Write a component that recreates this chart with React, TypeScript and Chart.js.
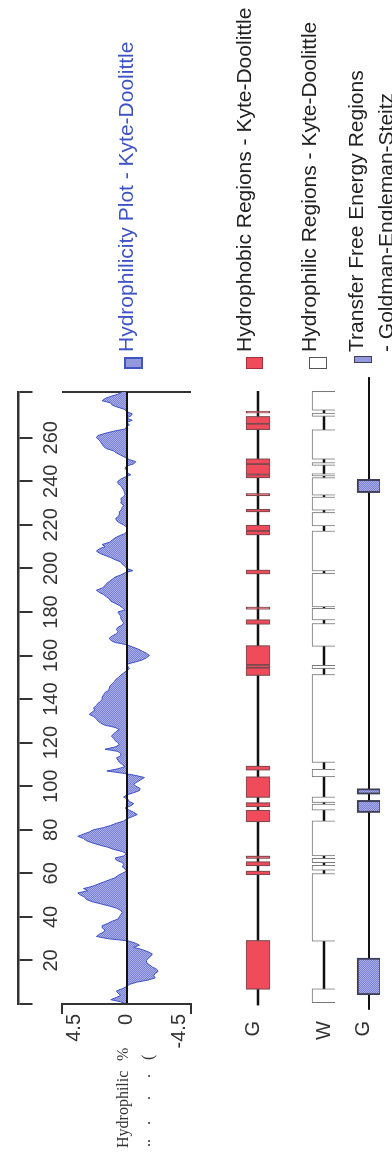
import React, { useEffect, useRef } from "react";
import { Chart, registerables } from "chart.js";

Chart.register(...registerables);

// ---------------- data ----------------
const RESIDUE_MIN = 0;
const RESIDUE_MAX = 281;
const residueTicks = [0, 20, 40, 60, 80, 100, 120, 140, 160, 180, 200, 220, 240, 260, 281];
const residueTickLabels = ["", "20", "40", "60", "80", "100", "120", "140", "160", "180", "200", "220", "240", "260", ""];

const kdTicks = [-4.5, 0, 4.5];
const kdTickLabels = ["-4.5", "0", "4.5"];

// Kyte-Doolittle hydrophilicity, residue 0..281 (index = residue)
const kdValues = [
  0, 0.4, 1.1, 0.7, 0.4, 0.6, 0.7, 0.3, 0, -0.2,
  -0.7, -1.5, -2.0, -1.9, -2.0, -2.2, -2.1, -1.8, -1.6, -1.4,
  -1.4, -1.5, -1.7, -1.8, -1.5, -1.1, -0.5, -0.9, -0.6, -0.1,
  1.3, 2.1, 1.9, 1.6, 1.5, 1.7, 1.7, 1.3, 1.0, 0.6,
  0.5, 0.4, 0.3, 0.4, 0.7, 1.2, 1.8, 2.4, 2.8, 2.9,
  3.2, 3.4, 2.7, 3.0, 2.4, 2.0, 1.6, 1.2, 0.8, 0.6,
  0.3, 0, 0.1, 0.3, 0.2, 0.3, 0.7, 0.8, 0.2, 0,
  0.3, 0.9, 1.3, 1.9, 2.4, 2.8, 3.0, 3.4, 3.0, 2.6,
  2.3, 1.6, 1.1, 0.7, 0.2, 0, -0.4, -0.75, -0.5, -0.2,
  0.1, -0.3, -0.5, -0.2, -0.1, 0.2, 0, -0.5, -0.9, -0.95,
  -0.65, -0.5, -0.75, -1.0, -1.25, -0.6, 0.3, 1.37, 0.6, 0.1,
  0.3, 0.5, 0.6, 0.7, 0.4, 0.4, 0.6, 1.5, 0.8, 0.5,
  0.6, 0.8, 0.9, 1.05, 0.9, 0.75, 0.5, 0.8, 1.5, 1.8,
  2.0, 2.1, 2.3, 2.6, 2.4, 2.2, 2.3, 2.1, 2.0, 1.8,
  1.7, 1.7, 1.6, 1.5, 1.25, 1.2, 1.15, 1.0, 0.85, 0.75,
  0.55, 0.4, 0.2, 0, -0.2, -0.1, 0, -0.6, -1.1, -1.4,
  -1.6, -1.4, -1.1, -0.8, -0.4, 0, 0.8, 1.1, 1.2, 1.0,
  0.7, 0.6, 0.7, 0.6, 0.3, 0.2, 0.3, 0.4, 0.4, 0.5,
  0.6, 0.1, 0.3, 0.5, 0.8, 1.1, 1.2, 1.4, 1.6, 1.9,
  2.1, 1.7, 1.5, 1.4, 1.2, 1.0, 0.8, 0.4, 0.1, -0.45,
  0, 0.1, 0.3, 0.4, 0.8, 1.1, 1.5, 1.9, 2.1, 1.9,
  1.5, 1.7, 1.2, 1.0, 0.8, 0.5, 0.1, 0, 0, 0,
  0.2, 0.5, 0.7, 0.75, 0.55, 0.5, 0.5, 0.35, 0.3, 0.2,
  0.4, 0.35, 0.4, 0.2, 0.1, 0.15, 0.2, 0.3, 0.4, 0.6,
  0.6, 0.4, 0.1, -0.3, 0, 0, 0.1, 0, -0.5, -0.65,
  -0.2, 0.1, 0.4, 0.7, 0.9, 1.4, 1.6, 1.7, 1.8, 1.9,
  2.1, 2.0, 1.5, 0.9, 0.1, 0, -0.2, 0, -0.4, 0,
  -0.3, -0.4, 0, 0.1, 0.6, 1.0, 1.1, 1.7, 1.5, 1.1,
  0.6, 0.3,
];

// region tracks: [start residue, end residue]
const hydrophobicRegions: [number, number][] = [
  [6.7, 29.2], [59.3, 61.1], [63.4, 65.4], [66.8, 68.0], [83.6, 89.0], [90.5, 92.5],
  [94.8, 104.4], [107.3, 109.3], [150.8, 154.4], [154.4, 155.7], [155.7, 164.6],
  [174.3, 176.5], [181.2, 182.3], [197.4, 199.3], [215.3, 217.2], [217.2, 219.9],
  [225.9, 227.2], [233.3, 234.4], [241.5, 243.1], [243.1, 247.9], [247.9, 250.4],
  [263.7, 266.4], [266.4, 269.8], [271.3, 272.2],
];
const hydrophilicRegions: [number, number][] = [
  [0.6, 7.0], [28.8, 59.9], [61.4, 63.7], [64.9, 66.9], [68.0, 84.1], [89.0, 91.8],
  [92.5, 95.1], [104.3, 107.8], [110.9, 151.3], [154.0, 155.5], [164.2, 174.7],
  [176.3, 181.7], [182.3, 197.8], [198.8, 217.2], [219.5, 225.7], [226.7, 232.8],
  [233.6, 241.7], [242.4, 243.5], [247.3, 248.6], [250.1, 263.7], [269.8, 271.3],
  [272.6, 281.3],
];
const transferRegions: [number, number][] = [
  [4.2, 21.1], [87.9, 93.5], [96.3, 98.9], [234.8, 240.9],
];
const hydrophobicSpan: [number, number] = [-0.5, 281.3];
const hydrophilicSpan: [number, number] = [0.6, 281.3];
const transferSpan: [number, number] = [-2.5, 287.7];

const legendLabels = [
  "Hydrophilicity Plot - Kyte-Doolittle",
  "Hydrophobic Regions - Kyte-Doolittle",
  "Hydrophilic Regions - Kyte-Doolittle",
  "Transfer Free Energy Regions",
  "- Goldman-Engleman-Steitz",
];
const trackLabels = ["G", "W", "G"];

// ---------------- layout (unrotated frame 1158 x 392) ----------------
const FULL_W = 1158;
const FULL_H = 392;
const PLOT_LEFT = 154;
const PLOT_RIGHT = 766;
const RIGHT_PAD = FULL_W - PLOT_RIGHT;
const BOX_H = 24;
const SANS = "'Liberation Sans', Arial, Helvetica, sans-serif";
const SERIF = "'Liberation Serif', 'Times New Roman', serif";
const RESIDUE_AXIS_AT = 7.54; // KD-units position of the residue axis line (above plot)

function makePattern(): CanvasPattern | string {
  const c = document.createElement("canvas");
  c.width = 2;
  c.height = 2;
  const g = c.getContext("2d");
  if (!g) return "#9499de";
  g.fillStyle = "#a9ade9";
  g.fillRect(0, 0, 2, 2);
  g.fillStyle = "#7c82d2";
  g.fillRect(0, 0, 1, 1);
  g.fillRect(1, 1, 1, 1);
  return g.createPattern(c, "repeat") || "#9499de";
}

function KDChart() {
  const ref = useRef<HTMLCanvasElement>(null);
  useEffect(() => {
    const canvas = ref.current;
    if (!canvas) return;
    const points = kdValues.map((v, i) => ({ x: RESIDUE_MIN + i, y: v }));
    const chart = new Chart(canvas, {
      type: "line",
      data: {
        datasets: [
          {
            data: points,
            fill: "origin",
            backgroundColor: makePattern() as any,
            borderColor: "#3d52c6",
            borderWidth: 1,
            pointRadius: 0,
            tension: 0,
          },
        ],
      },
      options: {
        animation: false,
        responsive: false,
        events: [],
        layout: { padding: { left: PLOT_LEFT - 60, right: RIGHT_PAD, top: 62, bottom: 11 } },
        plugins: { legend: { display: false }, tooltip: { enabled: false } },
        scales: {
          x: {
            type: "linear",
            min: RESIDUE_MIN,
            max: RESIDUE_MAX,
            position: { y: RESIDUE_AXIS_AT } as any,
            afterBuildTicks: (s: any) => {
              s.ticks = residueTicks.map((v) => ({ value: v }));
            },
            ticks: {
              autoSkip: false,
              maxRotation: 0,
              minRotation: 0,
              padding: 8,
              color: "#333",
              font: { family: SANS, size: 20 },
              callback: (v: any) => {
                const i = residueTicks.indexOf(Number(v));
                return i >= 0 ? residueTickLabels[i] : "";
              },
            },
            grid: {
              drawOnChartArea: true,
              color: (c: any) => (c.tick && c.tick.value === RESIDUE_MAX ? "#333" : "rgba(0,0,0,0)"),
              lineWidth: 2,
              tickLength: 13,
              tickColor: "#333",
              tickWidth: 2,
            },
            border: { display: true, color: "#333", width: 2.5 },
          },
          y: {
            type: "linear",
            min: -4.5,
            max: 4.5,
            position: "left",
            afterFit: (s: any) => {
              s.width = 60;
            },
            afterBuildTicks: (s: any) => {
              s.ticks = kdTicks.map((v) => ({ value: v }));
            },
            ticks: {
              padding: 0,
              color: "#333",
              font: { family: SANS, size: 20 },
              callback: (v: any) => {
                const i = kdTicks.indexOf(Number(v));
                const lab = i >= 0 ? kdTickLabels[i] : "";
                if (Number(v) === kdTicks[kdTicks.length - 1]) return ["", lab];
                if (Number(v) === kdTicks[0]) return [lab, ""];
                return lab;
              },
            },
            grid: {
              z: 1,
              color: (c: any) => (c.tick && c.tick.value === 0 ? "#111" : "rgba(0,0,0,0)"),
              lineWidth: 2,
              tickLength: 10,
              tickWidth: 2,
              tickColor: (c: any) => (c.tick && c.tick.value === 0 ? "rgba(0,0,0,0)" : "#333"),
            },
            border: { z: 1, color: "#333", width: 2 } as any,
          },
        },
      },
    });
    return () => chart.destroy();
  }, []);
  return (
    <canvas
      ref={ref}
      width={FULL_W}
      height={215}
      style={{ position: "absolute", left: 0, top: 0, width: FULL_W, height: 215 }}
    />
  );
}

type TrackProps = {
  top: number;
  label: string;
  labelShift: number;
  regions: [number, number][];
  span: [number, number];
  fill: "pattern" | string;
  border: string;
  borderWidth: number;
  lineWidth: number;
};

function TrackChart({ top, label, labelShift, regions, span, fill, border, borderWidth, lineWidth }: TrackProps) {
  const ref = useRef<HTMLCanvasElement>(null);
  useEffect(() => {
    const canvas = ref.current;
    if (!canvas) return;
    const boxFill = fill === "pattern" ? makePattern() : fill;
    const datasets: any[] = [
      {
        data: [span],
        backgroundColor: "#111",
        borderWidth: 0,
        barThickness: lineWidth,
        grouped: false,
        clip: false,
        order: 2,
      },
      ...regions.map((r) => ({
        data: [r],
        backgroundColor: boxFill,
        borderColor: border,
        borderWidth: borderWidth,
        borderSkipped: false,
        barThickness: BOX_H,
        grouped: false,
        clip: false,
        order: 1,
      })),
    ];
    const chart = new Chart(canvas, {
      type: "bar",
      data: { labels: [label], datasets },
      options: {
        indexAxis: "y",
        animation: false,
        responsive: false,
        events: [],
        layout: { padding: { left: PLOT_LEFT - 40, right: RIGHT_PAD, top: 4, bottom: 4 } },
        plugins: { legend: { display: false }, tooltip: { enabled: false } },
        scales: {
          x: { type: "linear", min: RESIDUE_MIN, max: RESIDUE_MAX, display: false },
          y: {
            type: "category",
            afterFit: (s: any) => {
              s.width = 40;
            },
            grid: { display: false },
            border: { display: false },
            ticks: {
              padding: 9,
              color: "#333",
              font: { family: SANS, size: 20, lineHeight: labelShift > 0 ? (2 * labelShift) / 20 : 1.2 },
              callback: () => (labelShift > 0 ? [label, ""] : label),
            },
          },
        },
      },
    });
    return () => chart.destroy();
  }, []);
  return (
    <canvas
      ref={ref}
      width={FULL_W}
      height={32}
      style={{ position: "absolute", left: 0, top, width: FULL_W, height: 32 }}
    />
  );
}

const legendText: React.CSSProperties = {
  position: "absolute",
  fontFamily: SANS,
  fontSize: 21,
  lineHeight: "21px",
  whiteSpace: "nowrap",
  color: "#222",
};

const serifText: React.CSSProperties = {
  position: "absolute",
  fontFamily: SERIF,
  fontSize: 16,
  lineHeight: "16px",
  whiteSpace: "nowrap",
  color: "#333",
};

export default function App() {
  return (
    <div
      style={{
        position: "absolute",
        left: 0,
        top: 0,
        width: FULL_H,
        height: FULL_W,
        overflow: "hidden",
        background: "#fff",
      }}
    >
      <div
        style={{
          position: "absolute",
          left: 0,
          top: 0,
          width: FULL_W,
          height: FULL_H,
          transformOrigin: "0 0",
          transform: `translateY(${FULL_W}px) rotate(-90deg)`,
        }}
      >
        <KDChart />
        <TrackChart
          top={239}
          label={trackLabels[0]}
          labelShift={5}
          regions={hydrophobicRegions}
          span={hydrophobicSpan}
          fill="#f04b5b"
          border="#7a4a4e"
          borderWidth={1.2}
          lineWidth={2}
        />
        <TrackChart
          top={303}
          label={trackLabels[1]}
          labelShift={0}
          regions={hydrophilicRegions}
          span={hydrophilicSpan}
          fill="#ffffff"
          border="#777"
          borderWidth={1}
          lineWidth={2}
        />
        <TrackChart
          top={348}
          label={trackLabels[2]}
          labelShift={6}
          regions={transferRegions}
          span={transferSpan}
          fill="pattern"
          border="#3e3e58"
          borderWidth={2}
          lineWidth={1.3}
        />

        {/* y-axis title (scan remnants) */}
        <div style={{ ...serifText, left: 10, top: 115 }}>Hydrophilic</div>
        <div style={{ ...serifText, left: 97, top: 115 }}>%</div>
        <div style={{ ...serifText, left: 11, top: 137 }}>..</div>
        <div style={{ ...serifText, left: 33, top: 137 }}>.</div>
        <div style={{ ...serifText, left: 58, top: 137 }}>.</div>
        <div style={{ ...serifText, left: 80, top: 137 }}>.</div>
        <div style={{ ...serifText, left: 98, top: 140 }}>(</div>

        {/* legend */}
        <div
          style={{
            position: "absolute",
            left: 789,
            top: 124,
            width: 12,
            height: 19,
            boxSizing: "border-box",
            border: "2px solid #4055c4",
            background: "#9499de",
          }}
        />
        <div style={{ ...legendText, left: 806, top: 115, color: "#3d52c4" }}>{legendLabels[0]}</div>

        <div
          style={{
            position: "absolute",
            left: 789,
            top: 246,
            width: 12,
            height: 17,
            boxSizing: "border-box",
            border: "1px solid #a3303c",
            background: "#f04b5b",
          }}
        />
        <div style={{ ...legendText, left: 806, top: 233 }}>{legendLabels[1]}</div>

        <div
          style={{
            position: "absolute",
            left: 789,
            top: 309,
            width: 12,
            height: 18,
            boxSizing: "border-box",
            border: "1px solid #555",
            background: "#fff",
          }}
        />
        <div style={{ ...legendText, left: 806, top: 298 }}>{legendLabels[2]}</div>

        <div
          style={{
            position: "absolute",
            left: 795,
            top: 354,
            width: 7,
            height: 18,
            boxSizing: "border-box",
            border: "1.5px solid #3e3e58",
            background: "#9499de",
          }}
        />
        <div style={{ ...legendText, left: 806, top: 345 }}>{legendLabels[3]}</div>
        <div style={{ ...legendText, left: 806, top: 375 }}>{legendLabels[4]}</div>
      </div>
    </div>
  );
}
